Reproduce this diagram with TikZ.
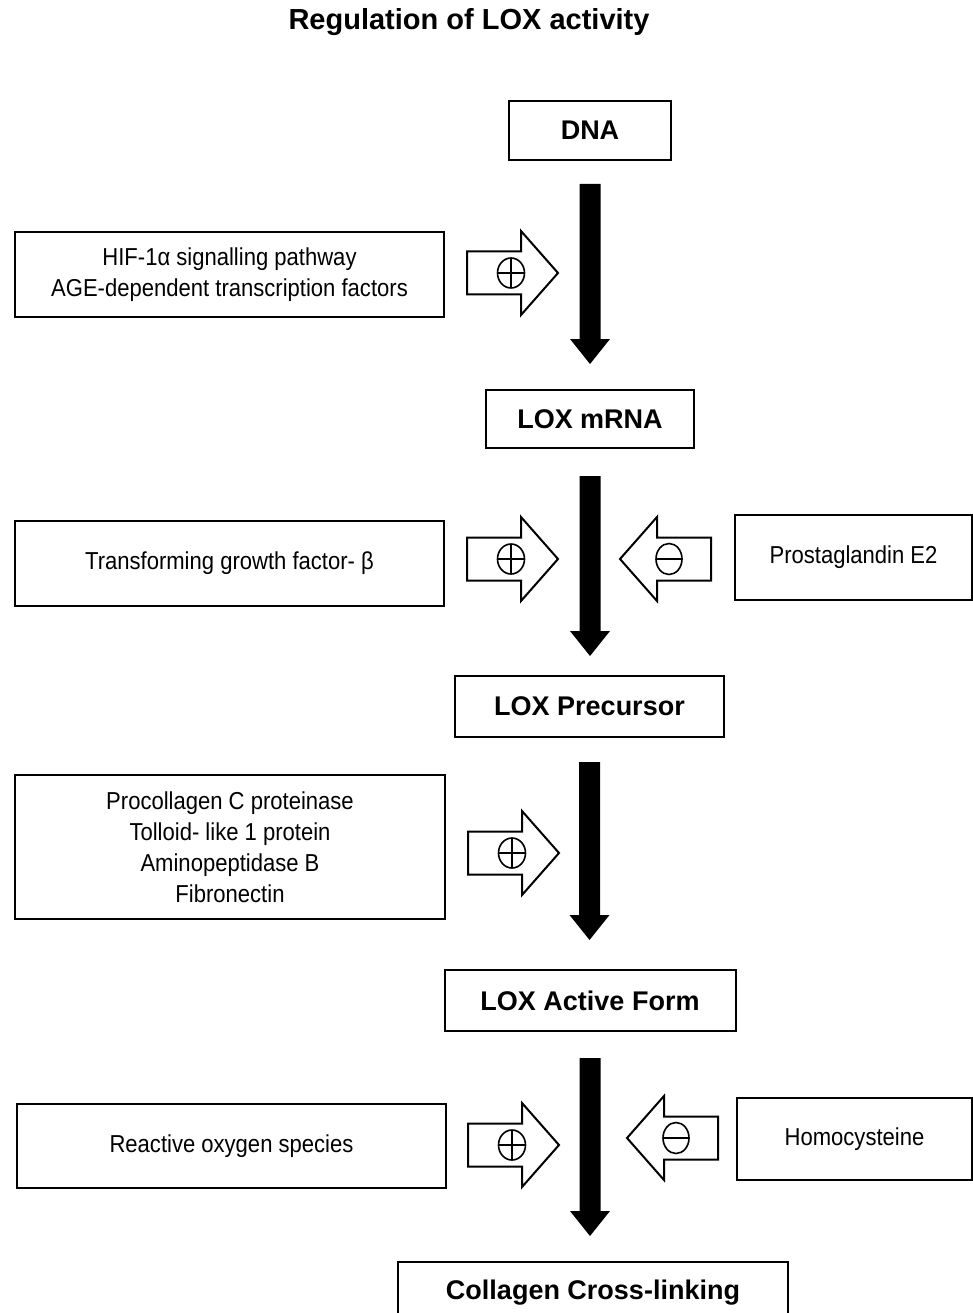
\documentclass[tikz,border=0pt]{standalone}
\usepackage{fontspec}
\setmainfont{Liberation Sans}
\newfontfamily\narrowfont[FakeStretch=0.9]{Liberation Sans}
\usetikzlibrary{arrows.meta}
\tikzset{
  box/.style={draw, line width=2pt, inner sep=0pt, align=center},
  mainbox/.style={box, font=\fontsize{27}{32}\selectfont\bfseries},
  sidebox/.style={box, font=\narrowfont\fontsize{24.5}{31}\selectfont},
  openarrow/.style={draw, line width=2pt, fill=white, line join=miter},
  sign/.style={line width=1.6pt},
  plusarrow/.pic={
    \draw[openarrow] (0,0) -- (-37,-42) -- (-37,-21.5) -- (-91,-21.5) -- (-91,21.5) -- (-37,21.5) -- (-37,42) -- cycle;
    \draw[sign] (-47,0) ellipse [x radius=13.5, y radius=15];
    \draw[sign] (-60.5,0) -- (-33.5,0) (-47,-15) -- (-47,15);
  },
  minusarrow/.pic={
    \draw[openarrow] (0,0) -- (37,-42) -- (37,-21.5) -- (91,-21.5) -- (91,21.5) -- (37,21.5) -- (37,42) -- cycle;
    \draw[sign] (49,0) ellipse [x radius=13, y radius=15.5];
    \draw[sign] (36,0) -- (62,0);
  }
}
\begin{document}
\begin{tikzpicture}[x=1pt, y=-1pt]
\useasboundingbox (0,0) rectangle (973,1313);
\fill[white] (0,0) rectangle (973,1313);

\node[font=\fontsize{29}{33}\selectfont\bfseries] (title) at (469,22) {Regulation of LOX activity};

% main chain
\node[mainbox, minimum width=162pt, minimum height=59pt] (dna) at (590,130.5) {DNA};
\node[mainbox, minimum width=208pt, minimum height=58pt] (mrna) at (590,419) {LOX mRNA};
\node[mainbox, minimum width=269pt, minimum height=61pt] (prec) at (589.5,706.5) {LOX Precursor};
\node[mainbox, minimum width=291pt, minimum height=61pt] (active) at (590,1000.5) {LOX Active Form};
\node[mainbox, minimum width=390pt, minimum height=62pt] (coll) at (593,1293) {Collagen Cross-linking};

% black transition arrows (shaft 21 wide, head 40 wide, 25 long)
\fill ([xshift=-10.5pt,yshift=-23pt]dna.south) -- ++(21,0) -- ++(0,155) -- ++(9.5,0) -- ++(-20,25) -- ++(-20,-25) -- ++(9.5,0) -- cycle;
\fill ([xshift=-10.5pt,yshift=-27pt]mrna.south) -- ++(21,0) -- ++(0,155) -- ++(9.5,0) -- ++(-20,25) -- ++(-20,-25) -- ++(9.5,0) -- cycle;
\fill ([xshift=-10.5pt,yshift=-24pt]prec.south) -- ++(21,0) -- ++(0,153) -- ++(9.5,0) -- ++(-20,25) -- ++(-20,-25) -- ++(9.5,0) -- cycle;
\fill ([xshift=-10.5pt,yshift=-26pt]active.south) -- ++(21,0) -- ++(0,153) -- ++(9.5,0) -- ++(-20,25) -- ++(-20,-25) -- ++(9.5,0) -- cycle;

% side boxes
\node[sidebox, minimum width=429pt, minimum height=85pt] (hif) at (229.5,274.5) {HIF-1α signalling pathway\\AGE-dependent transcription factors};
\node[sidebox, minimum width=429pt, minimum height=85pt] (tgf) at (229.5,563.5) {Transforming growth factor- β};
\node[sidebox, minimum width=237pt, minimum height=85pt] (pge) at (853.5,557.5) {Prostaglandin E2};
\node[sidebox, minimum width=430pt, minimum height=144pt] (proc) at (230,847) {Procollagen C proteinase\\Tolloid- like 1 protein\\Aminopeptidase B\\Fibronectin};
\node[sidebox, minimum width=429pt, minimum height=84pt] (ros) at (231.5,1146) {Reactive oxygen species};
\node[sidebox, minimum width=235pt, minimum height=82pt] (hcy) at (854.5,1139) {Homocysteine};

% regulatory arrows
\pic at (558,273) {plusarrow};
\pic at (558,559) {plusarrow};
\pic at (620,559) {minusarrow};
\pic at (559,853) {plusarrow};
\pic at (559,1145) {plusarrow};
\pic at (627,1138) {minusarrow};
\end{tikzpicture}
\end{document}
